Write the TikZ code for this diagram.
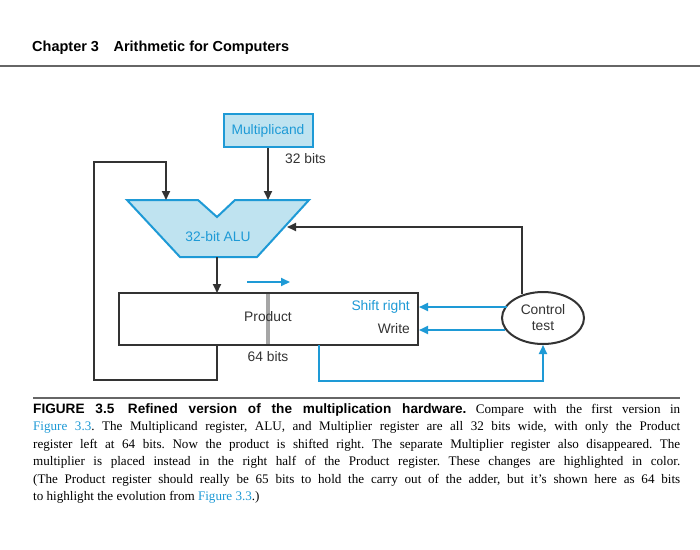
\documentclass[tikz,border=0pt]{standalone}
\usepackage{fontspec}
\setmainfont{Liberation Serif}
\setsansfont{Liberation Sans}
\usetikzlibrary{arrows.meta,shapes.geometric}
\definecolor{hblue}{HTML}{1E9AD6}
\definecolor{lblue}{HTML}{BFE3F0}
\begin{document}
\begin{tikzpicture}[x=1pt,y=-1pt,
  wire/.style={line width=2pt,draw=black!80,-{Triangle[length=9pt,width=8pt]}},
  bwire/.style={line width=2pt,draw=hblue,-{Triangle[length=9pt,width=8pt]}},
  lab/.style={font=\sffamily\fontsize{13.8}{15}\selectfont,inner sep=0pt,text=black!80},
  blab/.style={lab,text=hblue}]
\useasboundingbox (0,0) rectangle (700,549);
\fill[white] (0,0) rectangle (700,549);
% header
\node[anchor=west,font=\sffamily\bfseries\fontsize{14.5}{16}\selectfont,inner sep=0pt] (hdr) at (32,48) {Chapter 3\quad Arithmetic for Computers};
\draw[black!60,line width=1.2pt] (0,66) -- (700,66);
% multiplicand
\node[draw=hblue,fill=lblue,line width=2pt,minimum width=89pt,minimum height=33pt,inner sep=0pt,blab] (mc) at (268,130.5) {Multiplicand};
\node[lab,anchor=west] (b32) at (285,159) {32 bits};
% ALU
\draw[fill=lblue,draw=hblue,line width=2pt] (127,200) -- (198,200) -- (217,217) -- (235,200) -- (309,200) -- (257,257) -- (180,257) -- cycle;
\node[blab] (alu) at (218,237) {32-bit ALU};
\coordinate (aluL) at (166,200);
\coordinate (aluR) at (268,200);
\coordinate (aluB) at (217,257);
\coordinate (aluS) at (287,227);
% product
\node[draw=black!80,line width=2pt,minimum width=299pt,minimum height=52pt,inner sep=0pt] (prod) at (268.5,319) {};
\draw[black!35,line width=3.5pt] (268,294) -- (268,344);
\node[lab] (plab) at (268,317) {Product};
\node[blab,anchor=east] (sr) at (410,307) {Shift right};
\node[lab,anchor=east] (wr) at (410,329) {Write};
\node[lab] (b64) at (268,357) {64 bits};
\coordinate (a1) at (247,282);
\coordinate (a2) at (290,282);
\draw[bwire] (a1) -- (a2);
% control
\node[draw=black!80,line width=2pt,ellipse,minimum width=82pt,minimum height=52pt,inner sep=0pt,lab,align=center] (ct) at (543,318) {Control\\[1pt]test};
% wires
\draw[wire] (mc.south) -- (aluR);
\draw[wire] (aluB) -- (217,293);
\draw[wire] (217,345) -- (217,380) -- (94,380) -- (94,162) -- (166,162) -- (aluL);
\draw[wire] (522,293.5) -- (522,227) -- (aluS);
\draw[bwire] (507,307) -- (419,307);
\draw[bwire] (505,330) -- (419,330);
\draw[bwire] (319,345) -- (319,381) -- (543,381) -- (ct.south);
% caption
\draw[black!60,line width=1.2pt] (33,398) -- (680,398);
\node[anchor=north west,inner sep=0pt,text width=647pt,align=justify,font=\frenchspacing\fontsize{13.1}{17.5}\selectfont] (cap) at (33,403) {{\sffamily\bfseries\fontsize{13.6}{17.5}\selectfont FIGURE 3.5\quad Refined version of the multiplication hardware.} Compare with the first version in\linebreak
\textcolor{hblue}{Figure 3.3}. The Multiplicand register, ALU, and Multiplier register are all 32 bits wide, with only the Product\linebreak
register left at 64 bits. Now the product is shifted right. The separate Multiplier register also disappeared. The\linebreak
multiplier is placed instead in the right half of the Product register. These changes are highlighted in color.\linebreak
(The Product register should really be 65 bits to hold the carry out of the adder, but it's shown here as 64 bits\linebreak
to highlight the evolution from \textcolor{hblue}{Figure 3.3}.)\par};
\end{tikzpicture}
\end{document}
